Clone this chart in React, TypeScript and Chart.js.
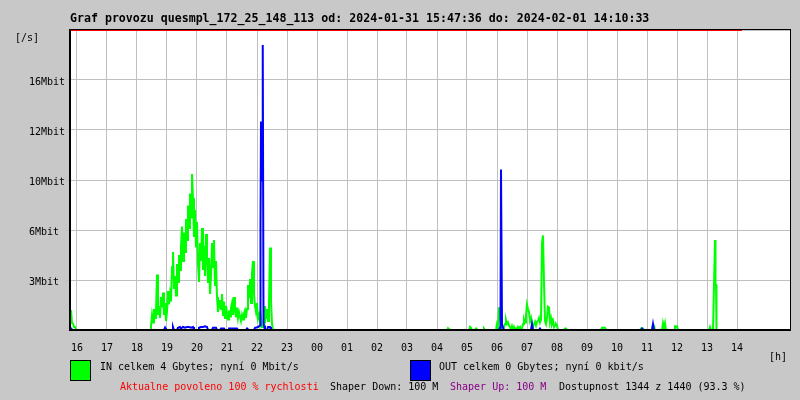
import React, { useEffect, useRef } from 'react';
import { Chart, registerables } from 'chart.js';

Chart.register(...registerables);

// ---- axis definitions ----
const axisStart = '15:46';
const hourTicks = [16, 17, 18, 19, 20, 21, 22, 23, 24, 25, 26, 27, 28, 29, 30, 31, 32, 33, 34, 35, 36, 37, 38];
const yMaxMbit = 20;
const yTickLabels = ['', '3Mbit', '6Mbit', '10Mbit', '12Mbit', '16Mbit', ''];

// ---- IN series (green), Mbit/s ----
const inTimes = [
  '15:48', '15:50', '15:52', '15:54', '15:56', '15:58', '18:24',
  '18:26', '18:28', '18:30', '18:32', '18:34', '18:36', '18:38', '18:40', '18:42', '18:44', '18:46', '18:48', '18:50', '18:52', '18:54', '18:56', '18:58',
  '19:00', '19:02', '19:04', '19:06', '19:08', '19:10', '19:12', '19:14', '19:16', '19:18', '19:20', '19:22', '19:24', '19:26', '19:28',
  '19:30', '19:32', '19:34', '19:36', '19:38', '19:40', '19:42', '19:44', '19:46', '19:48', '19:50', '19:52', '19:54', '19:56', '19:58',
  '20:00', '20:02', '20:04', '20:06', '20:08', '20:10', '20:12', '20:14', '20:16', '20:18', '20:20', '20:22', '20:24', '20:26', '20:28',
  '20:30', '20:32', '20:34', '20:36', '20:38', '20:40', '20:42', '20:44', '20:46', '20:48', '20:50', '20:52', '20:54', '20:56', '20:58',
  '21:00', '21:02', '21:04', '21:06', '21:08', '21:10', '21:12', '21:14', '21:16', '21:18', '21:20', '21:22', '21:24', '21:26', '21:28',
  '21:30', '21:32', '21:34', '21:36', '21:38', '21:40', '21:42', '21:44', '21:46', '21:48', '21:50', '21:52', '21:54', '21:56', '21:58',
  '22:00', '22:02', '22:04', '22:06', '22:08', '22:10', '22:12', '22:14', '22:16', '22:18', '22:20', '22:22', '22:24', '22:26', '22:28', '22:30', '22:32',
  '04:20', '04:22', '04:24', '04:26', '05:04', '05:06', '05:08', '05:10', '05:16', '05:18', '05:20', '05:32', '05:34', '05:36',
  '05:58', '06:00', '06:02', '06:04', '06:06', '06:08', '06:10', '06:12', '06:14', '06:16', '06:18', '06:20', '06:22', '06:24', '06:26', '06:28',
  '06:30', '06:32', '06:34', '06:36', '06:38', '06:40', '06:42', '06:44', '06:46', '06:48', '06:50', '06:52', '06:54', '06:56', '06:58',
  '07:00', '07:02', '07:04', '07:06', '07:08', '07:10', '07:12', '07:14', '07:16', '07:18', '07:20', '07:22', '07:24', '07:26', '07:28',
  '07:30', '07:32', '07:34', '07:36', '07:38', '07:40', '07:42', '07:44', '07:46', '07:48', '07:50', '07:52', '07:54', '07:56', '07:58',
  '08:00', '08:02', '08:14', '08:16', '08:18', '08:20', '09:28', '09:30', '09:36', '09:38',
  '10:46', '10:48', '10:52', '10:54', '11:10', '11:12', '11:14', '11:16', '11:30', '11:32', '11:34', '11:36', '11:38',
  '11:54', '11:56', '12:00', '12:02', '13:04', '13:06', '13:08', '13:12', '13:14', '13:16', '13:17', '13:18', '13:19', '14:10',
];
const inMbit = [
  1.33, 0.47, 0.45, 0.2, 0.2, 0, 0,
  0, 0.3, 1.0, 0.5, 1.4, 0.8, 1.2, 3.7, 1.0, 1.6, 0.8, 2.2, 1.5, 2.5, 1.0, 1.8, 0.6,
  1.2, 2.6, 1.7, 2.4, 1.9, 4.2, 5.2, 2.8, 3.6, 2.3, 4.4, 3.2, 5.0, 4.0, 5.6,
  6.9, 4.6, 6.5, 5.2, 7.4, 6.0, 8.3, 6.8, 9.1, 7.5, 10.4, 8.8, 6.2, 8.0, 5.5,
  7.2, 4.4, 3.2, 5.8, 4.6, 6.8, 4.0, 5.6, 3.6, 6.4, 5.0, 3.2, 4.8, 2.4, 3.6,
  5.8, 4.2, 6.0, 3.0, 4.6, 2.2, 1.2, 1.6, 2.0, 1.4, 2.4, 1.0, 1.9, 0.8, 1.6,
  1.1, 0.7, 1.3, 0.9, 1.5, 1.8, 1.0, 2.2, 1.3, 0.9, 1.5, 0.8, 1.2, 0.9, 0.6,
  1.0, 0.7, 1.1, 1.3, 0.8, 1.4, 3.0, 2.2, 3.4, 1.8, 3.8, 4.6, 2.4, 1.6, 1.2,
  1.8, 0.8, 1.0, 0.4, 0.8, 0.2, 0.3, 0.5, 1.6, 0.8, 1.4, 0.6, 1.8, 5.5, 2.0, 0.4, 0,
  0, 0.12, 0.12, 0, 0, 0.2, 0.1, 0, 0, 0.1, 0, 0, 0.1, 0,
  0, 0.4, 0.2, 1.45, 1.45, 0.3, 0.1, 0, 0.2, 0.4, 0.67, 0.4, 0.5, 0.3, 0.2, 0,
  0.25, 0, 0.2, 0, 0.1, 0, 0.2, 0.1, 0.2, 0, 0.1, 0.4, 0.7, 0.5, 1.0,
  1.7, 1.4, 1.2, 0.6, 0.8, 0.3, 0.2, 0.4, 0.55, 0.3, 0.55, 0.6, 0.8, 0.5, 0.7,
  5.8, 6.3, 3.2, 0.6, 0.4, 0.8, 1.55, 1.5, 0.5, 0.8, 0.4, 0.6, 0.2, 0.3, 0.4,
  0.3, 0, 0, 0.1, 0.1, 0, 0, 0.15, 0.15, 0,
  0, 0.1, 0.1, 0, 0, 0.35, 0.3, 0, 0, 0.45, 0.1, 0.45, 0,
  0, 0.25, 0.25, 0, 0, 0.2, 0, 0, 3.0, 6.0, 3.0, 3.0, 0, 0,
];

// ---- OUT series (blue), Mbit/s ----
const outTimes = [
  '15:48', '15:50', '18:54', '18:56', '18:58', '19:10', '19:12', '19:14', '19:20', '19:22', '19:26', '19:28',
  '19:32', '19:36', '19:40', '19:44', '19:48', '19:52', '19:54', '20:02', '20:04', '20:08', '20:12', '20:16',
  '20:20', '20:22', '20:30', '20:32', '20:38', '20:40', '20:46', '20:48', '20:54', '20:56', '21:02', '21:04',
  '21:12', '21:20', '21:22', '21:38', '21:40', '21:42', '21:54', '21:56', '22:02', '22:06', '22:07', '22:08',
  '22:09', '22:10', '22:11', '22:12', '22:13', '22:14', '22:16', '22:20', '22:22', '22:26', '22:28',
  '06:04', '06:06', '06:07', '06:08', '06:09', '06:10', '06:12', '06:14', '07:08', '07:10', '07:12',
  '07:24', '07:26', '07:28', '10:48', '10:50', '10:52', '11:10', '11:12', '11:14', '14:10',
];
const outMbit = [
  0.15, 0, 0, 0.15, 0, 0, 0.2, 0, 0, 0.15, 0.2, 0.1,
  0.2, 0.15, 0.2, 0.2, 0.15, 0.2, 0, 0, 0.15, 0.2, 0.2, 0.25,
  0.2, 0, 0, 0.15, 0.15, 0, 0, 0.1, 0.1, 0, 0, 0.1,
  0.1, 0.1, 0, 0, 0.1, 0, 0, 0.15, 0.2, 0.3, 7.0, 13.9,
  12.5, 13.9, 9.9, 19.0, 0.5, 0.3, 0, 0, 0.2, 0.2, 0,
  0, 0.15, 0.5, 10.7, 10.7, 0.4, 0.15, 0, 0, 0.4, 0,
  0, 0.1, 0, 0, 0.1, 0, 0, 0.4, 0, 0,
];

// ---- maximum line (red), at the top of the scale ----
const maxTimes = ['15:48', '14:10'];
const maxMbit = [20, 20];

const toHour = (t: string) => {
  const [h, m] = t.split(':').map(Number);
  return (h < 15 ? h + 24 : h) + m / 60;
};
const xMin = toHour(axisStart);
const xMax = xMin + 24;
const pts = (times: string[], vals: number[]) => times.map((t, i) => ({ x: toHour(t), y: vals[i] }));

const FONT = '"DejaVu Sans Mono", "Liberation Mono", monospace';

const framePlugin = {
  id: 'frame',
  beforeDraw(chart: any) {
    const { ctx, chartArea: a } = chart;
    ctx.save();
    ctx.fillStyle = '#ffffff';
    ctx.fillRect(a.left, a.top, a.right - a.left, a.bottom - a.top);
    ctx.restore();
  },
  afterDatasetsDraw(chart: any) {
    const { ctx, chartArea: a } = chart;
    ctx.save();
    ctx.fillStyle = '#000000';
    ctx.fillRect(a.left, a.top - 1, a.right - a.left + 1, 1);
    ctx.fillRect(a.right, a.top - 1, 1, a.bottom - a.top + 2);
    ctx.fillRect(a.left - 1, a.top - 1, 2, a.bottom - a.top + 2);
    ctx.fillRect(a.left - 1, a.bottom - 1, a.right - a.left + 2, 2);
    ctx.restore();
  },
};

const txt = (left: number, top: number, color = '#000', extra: any = {}) => ({
  position: 'absolute' as const,
  left,
  top,
  fontFamily: FONT,
  fontSize: 10,
  lineHeight: '12px',
  whiteSpace: 'pre' as const,
  color,
  ...extra,
});

export default function App() {
  const ref = useRef<HTMLCanvasElement>(null);
  useEffect(() => {
    const chart = new Chart(ref.current as HTMLCanvasElement, {
      type: 'line',
      data: {
        datasets: [
          { label: 'IN', data: pts(inTimes, inMbit), borderColor: '#00ff00', borderWidth: 2, pointRadius: 0, tension: 0, fill: false, order: 2 },
          { label: 'OUT', data: pts(outTimes, outMbit), borderColor: '#0000ff', borderWidth: 2, pointRadius: 0, tension: 0, fill: false, order: 1 },
          { label: 'max', data: pts(maxTimes, maxMbit), borderColor: '#ff0000', borderWidth: 2, pointRadius: 0, tension: 0, fill: false, order: 0 },
        ],
      },
      options: {
        animation: false,
        responsive: false,
        devicePixelRatio: 1,
        parsing: false,
        layout: { padding: { left: 29, top: 30, right: 10, bottom: 0 } },
        plugins: { legend: { display: false }, tooltip: { enabled: false }, title: { display: false } },
        scales: {
          x: {
            type: 'linear',
            min: xMin,
            max: xMax,
            afterBuildTicks: (s: any) => { s.ticks = hourTicks.map((v) => ({ value: v })); },
            afterFit: (s: any) => { s.height = 70; },
            grid: { color: '#c0c0c0', lineWidth: 1, drawTicks: false },
            border: { display: false },
            ticks: {
              autoSkip: false,
              maxRotation: 0,
              minRotation: 0,
              padding: 12,
              color: '#000',
              font: { family: FONT, size: 10 },
              callback: (v: any) => String(Math.round(Number(v)) % 24).padStart(2, '0'),
            },
          },
          y: {
            type: 'linear',
            min: 0,
            max: yMaxMbit,
            afterBuildTicks: (s: any) => { s.ticks = yTickLabels.map((_, i) => ({ value: (i * yMaxMbit) / 6 })); },
            afterFit: (s: any) => { s.width = 41; },
            grid: { color: '#c0c0c0', lineWidth: 1, drawTicks: true, tickLength: 4 },
            border: { display: false },
            ticks: {
              crossAlign: 'far',
              labelOffset: 2,
              color: '#000',
              font: { family: FONT, size: 10 },
              callback: (_v: any, i: number) => yTickLabels[i],
            },
          },
        },
      } as any,
      plugins: [framePlugin],
    });
    return () => chart.destroy();
  }, []);

  return (
    <div style={{ position: 'fixed', left: 0, top: 0, width: 800, height: 400, background: '#c8c8c8', overflow: 'hidden' }}>
      <canvas ref={ref} width={800} height={400} style={{ position: 'absolute', left: 0, top: 0, width: 800, height: 400 }} />
      <div style={txt(70, 11, '#000', { fontSize: 11.6, fontWeight: 'bold', lineHeight: '14px' })}>
        Graf provozu quesmpl_172_25_148_113 od: 2024-01-31 15:47:36 do: 2024-02-01 14:10:33
      </div>
      <div style={txt(15, 32)}>[/s]</div>
      <div style={txt(769, 351)}>[h]</div>
      <div style={{ position: 'absolute', left: 70, top: 360, width: 21, height: 21, boxSizing: 'border-box', border: '1px solid #000', background: '#00ff00' }} />
      <div style={txt(100, 360.5)}>IN celkem 4 Gbytes; nyní 0 Mbit/s</div>
      <div style={{ position: 'absolute', left: 410, top: 360, width: 21, height: 21, boxSizing: 'border-box', border: '1px solid #000', background: '#0000ff' }} />
      <div style={txt(439, 360.5)}>OUT celkem 0 Gbytes; nyní 0 kbit/s</div>
      <div style={txt(120, 381.2, '#ff0000')}>Aktualne povoleno 100 % rychlosti</div>
      <div style={txt(330, 381.2)}>Shaper Down: 100 M</div>
      <div style={txt(450, 381.2, '#880088')}>Shaper Up: 100 M</div>
      <div style={txt(559, 381.2)}>Dostupnost 1344 z 1440 (93.3 %)</div>
    </div>
  );
}
